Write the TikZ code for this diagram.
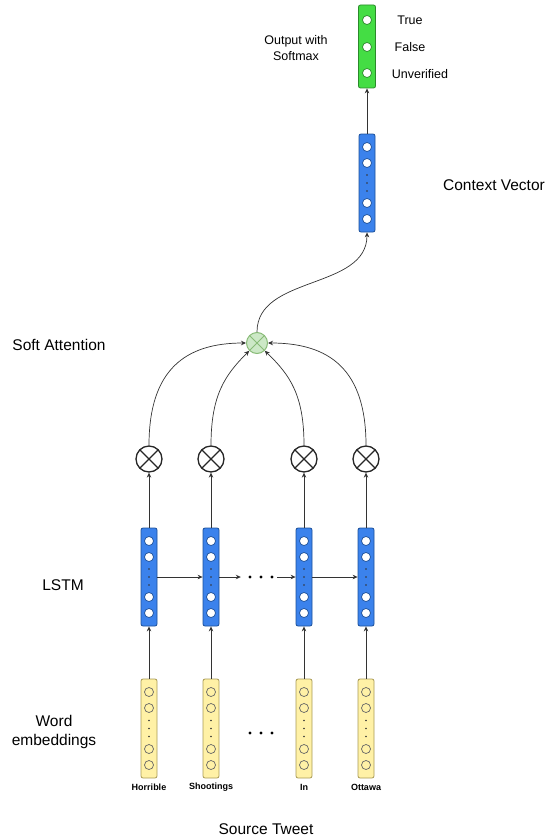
\documentclass[tikz,border=0pt]{standalone}
\usepackage{fontspec}
\setmainfont{Liberation Sans}
\usetikzlibrary{arrows.meta}
\definecolor{blueF}{HTML}{3B82EC}
\definecolor{blueD}{HTML}{1B4F99}
\definecolor{greenF}{HTML}{44DD44}
\definecolor{greenD}{HTML}{2A8A2A}
\definecolor{yellowF}{HTML}{FFF1A6}
\definecolor{yellowD}{HTML}{A89A55}
\definecolor{attF}{HTML}{CCE8C6}
\definecolor{attD}{HTML}{88BB77}
\definecolor{lineC}{HTML}{333333}
\newcommand{\vecColumn}[6]{%
  \node[#5, minimum height=#4*2pt] (#1) at (#2,#3) {};
  \node[#6] (#1u1) at (#2,#3-#4+13) {};
  \node[#6] (#1u2) at (#2,#3-#4+29) {};
  \node[#6] (#1u3) at (#2,#3+#4-29) {};
  \node[#6] (#1u4) at (#2,#3+#4-13) {};
  \fill[black!80] (#2,#3-8) circle (0.8pt) (#2,#3) circle (0.8pt) (#2,#3+8) circle (0.8pt);
}
\tikzset{
  vbox/.style={rounded corners=2pt, minimum width=16pt, inner sep=0pt, line width=0.8pt},
  lstmbox/.style={vbox, draw=blueD, fill=blueF},
  embbox/.style={vbox, draw=yellowD, fill=yellowF},
  ctxbox/.style={vbox, draw=blueD, fill=blueF},
  outbox/.style={vbox, draw=greenD, fill=greenF, minimum width=17pt},
  wunit/.style={circle, draw=blueD, fill=white, line width=0.7pt, minimum size=9pt, inner sep=0pt},
  gunit/.style={circle, draw=greenD, fill=white, line width=0.7pt, minimum size=9pt, inner sep=0pt},
  yunit/.style={circle, draw=black!60, fill=yellowF, line width=0.7pt, minimum size=9pt, inner sep=0pt},
  mult/.style={circle, draw=black!85, line width=1.3pt, minimum size=26pt, inner sep=0pt,
    path picture={\draw[black!85, line width=1.3pt]
      (path picture bounding box.north west) -- (path picture bounding box.south east)
      (path picture bounding box.north east) -- (path picture bounding box.south west);}},
  attn/.style={circle, draw=attD, fill=attF, line width=1pt, minimum size=21pt, inner sep=0pt,
    path picture={\draw[attD, line width=1pt]
      (path picture bounding box.north west) -- (path picture bounding box.south east)
      (path picture bounding box.north east) -- (path picture bounding box.south west);}},
  arr/.style={-{Stealth[length=5pt,width=4.5pt]}, draw=lineC, line width=0.7pt},
  biglabel/.style={font=\fontsize{15.5}{19}\selectfont, align=center, inner sep=0pt},
  midlabel/.style={font=\fontsize{12.5}{16}\selectfont, align=center, inner sep=0pt},
  wordlabel/.style={font=\fontsize{9}{11}\selectfont\bfseries, inner sep=0pt},
  dotsgap/.style={minimum width=36pt, minimum height=6pt, inner sep=0pt},
}
\begin{document}
\begin{tikzpicture}[x=1pt, y=-1pt]
\useasboundingbox (0,0) rectangle (550,840);
% output
\node[outbox, minimum height=83pt] (out) at (367,46.5) {};
\node[gunit] (outu1) at (367,20) {};
\node[gunit] (outu2) at (367,47) {};
\node[gunit] (outu3) at (367,73) {};
\node[midlabel] (ltrue) at (410,20) {True};
\node[midlabel] (lfalse) at (410,47) {False};
\node[midlabel] (lunv) at (420,74) {Unverified};
\node[midlabel] (lsoft) at (296,48) {Output with\\Softmax};
% context vector
\vecColumn{ctx}{367}{183}{49}{ctxbox}{wunit}
\node[biglabel] (lctx) at (494,185) {Context Vector};
\draw[arr] (ctx.north) -- (out.south);
% attention
\node[attn] (att) at (257,343) {};
\node[biglabel] (lsa) at (59,345) {Soft Attention};
\draw[arr] (att.north) .. controls (257,275) and (367,290) .. (ctx.south);
% multipliers
\node[mult] (m1) at (149,459) {};
\node[mult] (m2) at (211,459) {};
\node[mult] (m3) at (304,459) {};
\node[mult] (m4) at (366,459) {};
\draw[arr] (m1.north) .. controls (149,370) and (185,343) .. (att.west);
\draw[arr] (m2.north) .. controls (211,395) and (225,375) .. (att.south west);
\draw[arr] (m3.north) .. controls (304,395) and (290,375) .. (att.south east);
\draw[arr] (m4.north) .. controls (366,370) and (330,343) .. (att.east);
% LSTM
\vecColumn{l1}{149}{577}{49}{lstmbox}{wunit}
\vecColumn{l2}{211}{577}{49}{lstmbox}{wunit}
\vecColumn{l3}{304}{577}{49}{lstmbox}{wunit}
\vecColumn{l4}{366}{577}{49}{lstmbox}{wunit}
\node[dotsgap] (ldots) at (259,577) {};
\fill (250,577) circle (1.6pt) (261,577) circle (1.6pt) (272,577) circle (1.6pt);
\node[biglabel] (llstm) at (63,585) {LSTM};
\draw[arr] (l1.east) -- (l2.west);
\draw[arr] (l2.east) -- (ldots.west);
\draw[arr] (ldots.east) -- (l3.west);
\draw[arr] (l3.east) -- (l4.west);
\foreach \i in {1,...,4}{\draw[arr] (l\i.north) -- (m\i.south);}
% embeddings
\vecColumn{e1}{149}{728.5}{49.5}{embbox}{yunit}
\vecColumn{e2}{211}{728.5}{49.5}{embbox}{yunit}
\vecColumn{e3}{304}{728.5}{49.5}{embbox}{yunit}
\vecColumn{e4}{366}{728.5}{49.5}{embbox}{yunit}
\node[dotsgap] (edots) at (261,733) {};
\fill (250,733) circle (1.6pt) (261,733) circle (1.6pt) (272,733) circle (1.6pt);
\foreach \i in {1,...,4}{\draw[arr] (e\i.north) -- (l\i.south);}
\node[biglabel] (lwe) at (54,732) {Word\\embeddings};
\node[wordlabel] (w1) at (149,787) {Horrible};
\node[wordlabel] (w2) at (211,787) {Shootings};
\node[wordlabel] (w3) at (304,787) {In};
\node[wordlabel] (w4) at (366,787) {Ottawa};
\node[biglabel] (lsrc) at (266,829) {Source Tweet};
\end{tikzpicture}
\end{document}
